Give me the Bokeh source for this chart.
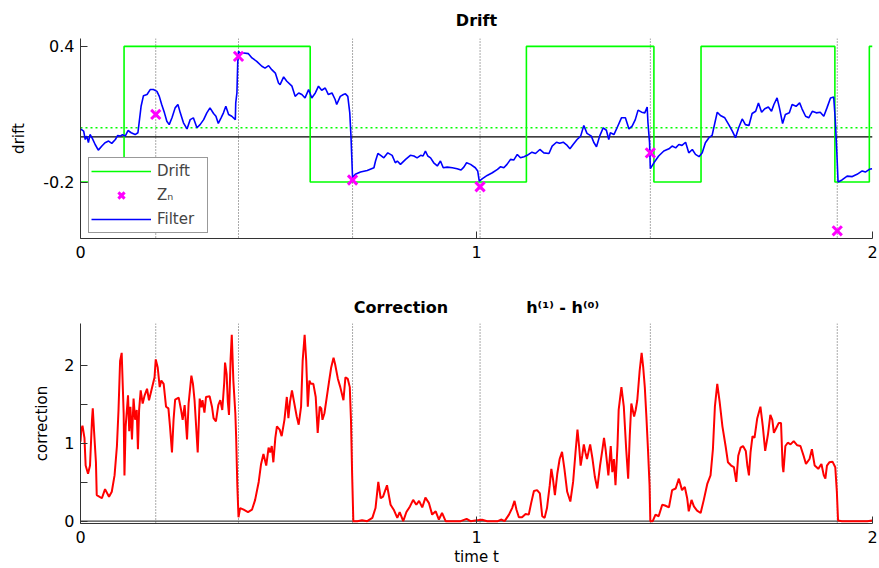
from bokeh.plotting import figure
from bokeh.layouts import column
from bokeh.models import (Legend, LegendItem, FixedTicker, Span, Range1d)
from bokeh.embed import file_html
from bokeh.resources import INLINE

FONT = "DejaVu Sans"

# ---------------- data ----------------
drift_t = [0.0, 0.110, 0.580, 1.126, 1.448, 1.567, 1.905, 1.992, 2.0]
drift_v = [-0.2, 0.4, -0.2, 0.4, -0.2, 0.4, -0.2, 0.4, 0.4]

obs_t = [0.190, 0.399, 0.687, 1.009, 1.439, 1.911]
obs_z = [0.099, 0.356, -0.191, -0.221, -0.071, -0.416]

zero_level = 0.0
mean_drift = 0.04

filter_t = [
    0.000, 0.008, 0.012, 0.016, 0.020, 0.024, 0.029, 0.037, 0.045, 0.054, 0.062, 0.071, 0.079, 0.088,
    0.094, 0.100, 0.106, 0.113, 0.120, 0.128, 0.138, 0.145, 0.148, 0.153, 0.159, 0.168, 0.176, 0.184,
    0.193, 0.199, 0.205, 0.212, 0.218, 0.224, 0.231, 0.239, 0.246, 0.252, 0.260, 0.269, 0.277, 0.285,
    0.294, 0.302, 0.311, 0.319, 0.327, 0.336, 0.342, 0.348, 0.355, 0.361, 0.367, 0.374, 0.382, 0.391,
    0.392, 0.395, 0.397, 0.399, 0.403, 0.412, 0.424, 0.433, 0.445, 0.458, 0.466, 0.475, 0.483, 0.492,
    0.500, 0.504, 0.513, 0.521, 0.534, 0.542, 0.551, 0.559, 0.567, 0.576, 0.584, 0.593, 0.601, 0.609,
    0.618, 0.626, 0.635, 0.643, 0.647, 0.656, 0.664,
    0.669, 0.675, 0.680, 0.683, 0.687, 0.694, 0.707, 0.724, 0.741, 0.745, 0.751, 0.758, 0.766, 0.776,
    0.787, 0.795, 0.800, 0.808, 0.821, 0.833, 0.842, 0.850, 0.859, 0.865, 0.871, 0.877, 0.884, 0.892,
    0.901, 0.909, 0.916, 0.926, 0.939, 0.951, 0.961, 0.968, 0.975, 0.985, 0.997, 1.003, 1.007, 1.015,
    1.027, 1.040, 1.053, 1.061, 1.069, 1.077, 1.086, 1.094, 1.103, 1.111, 1.120, 1.128, 1.140, 1.149,
    1.160, 1.170, 1.183, 1.191, 1.202, 1.210, 1.219, 1.229, 1.236, 1.244, 1.254, 1.263, 1.271, 1.279,
    1.290, 1.296, 1.303, 1.311, 1.320, 1.328, 1.334,
    1.338, 1.347, 1.355, 1.366, 1.376, 1.385, 1.393, 1.401, 1.408, 1.417, 1.425, 1.431, 1.433, 1.437,
    1.439, 1.448, 1.460, 1.473, 1.486, 1.494, 1.503, 1.511, 1.519, 1.528, 1.536, 1.545, 1.553, 1.562,
    1.570, 1.578, 1.587, 1.595, 1.602, 1.608, 1.616, 1.627, 1.637, 1.646, 1.654, 1.662, 1.671, 1.679,
    1.688, 1.696, 1.705, 1.712, 1.720, 1.728, 1.737, 1.745, 1.751, 1.759, 1.765, 1.773, 1.780, 1.790,
    1.797, 1.807, 1.816, 1.822, 1.831, 1.839, 1.848, 1.858, 1.868, 1.877, 1.885, 1.894, 1.902, 1.906,
    1.910, 1.913, 1.923, 1.936, 1.949, 1.961, 1.974, 1.982, 1.992, 1.999]
filter_v = [
    0.035, 0.025, -0.012, 0.003, -0.026, 0.010, -0.004, -0.034, -0.059, -0.041, -0.026, -0.019, -0.029, -0.012,
    0.006, 0.003, 0.009, 0.003, 0.028, 0.018, 0.010, 0.018, 0.062, 0.135, 0.182, 0.187, 0.209, 0.209,
    0.201, 0.179, 0.143, 0.106, 0.069, 0.054, 0.084, 0.128, 0.143, 0.106, 0.062, 0.035, 0.076, 0.084,
    0.040, 0.054, 0.076, 0.106, 0.128, 0.103, 0.091, 0.059, 0.084, 0.106, 0.135, 0.099, 0.091, 0.076,
    0.150, 0.194, 0.326, 0.378, 0.371, 0.371, 0.368, 0.349, 0.334, 0.312, 0.304, 0.315, 0.297, 0.282,
    0.238, 0.231, 0.265, 0.246, 0.224, 0.179, 0.194, 0.187, 0.172, 0.209, 0.172, 0.194, 0.224, 0.206,
    0.216, 0.187, 0.194, 0.165, 0.143, 0.179, 0.187,
    0.190, 0.179, 0.106, 0.003, -0.181, -0.166, -0.156, -0.149, -0.137, -0.107, -0.074, -0.082, -0.093, -0.071,
    -0.082, -0.115, -0.107, -0.122, -0.100, -0.082, -0.085, -0.093, -0.082, -0.085, -0.063, -0.085, -0.093, -0.115,
    -0.129, -0.107, -0.137, -0.134, -0.137, -0.141, -0.147, -0.134, -0.115, -0.122, -0.137, -0.151, -0.196, -0.185,
    -0.171, -0.159, -0.144, -0.132, -0.137, -0.122, -0.100, -0.103, -0.078, -0.093, -0.088, -0.082, -0.068, -0.074,
    -0.056, -0.071, -0.074, -0.041, -0.024, -0.029, -0.024, -0.038, -0.053, -0.034, -0.012, 0.003, 0.050, 0.015,
    0.003, -0.024, -0.044, 0.003, 0.040, 0.029, -0.012,
    0.018, 0.010, 0.040, 0.084, 0.084, 0.035, 0.047, 0.076, 0.118, 0.109, 0.106, 0.132, 0.062, -0.026,
    -0.141, -0.115, -0.085, -0.063, -0.053, -0.041, -0.049, -0.034, -0.038, -0.024, -0.071, -0.056, -0.078, -0.088,
    -0.071, -0.026, -0.004, 0.006, 0.062, 0.109, 0.094, 0.084, 0.054, 0.025, -0.004, 0.040, 0.079, 0.054,
    0.050, 0.103, 0.113, 0.150, 0.109, 0.124, 0.132, 0.113, 0.143, 0.172, 0.128, 0.059, 0.099, 0.106,
    0.143, 0.135, 0.150, 0.124, 0.091, 0.084, 0.113, 0.106, 0.109, 0.091, 0.128, 0.172, 0.176, 0.076,
    -0.071, -0.200, -0.191, -0.174, -0.176, -0.166, -0.151, -0.156, -0.144, -0.141]

corr_t = [
    0.000, 0.002, 0.005, 0.010, 0.013, 0.019, 0.024, 0.029, 0.031, 0.034, 0.039, 0.041, 0.054, 0.062,
    0.072, 0.079, 0.086, 0.092, 0.096, 0.100, 0.104, 0.109, 0.111, 0.114, 0.120, 0.123, 0.126, 0.130,
    0.134, 0.138, 0.142, 0.145, 0.148, 0.152, 0.157, 0.162, 0.168, 0.173, 0.180, 0.187, 0.190, 0.195,
    0.200, 0.204, 0.210, 0.216, 0.222, 0.226, 0.231, 0.235, 0.239, 0.248, 0.254, 0.258, 0.263, 0.269,
    0.273, 0.280, 0.284, 0.288, 0.291, 0.296, 0.301, 0.305, 0.308, 0.313, 0.317, 0.326, 0.332, 0.336,
    0.342, 0.348, 0.353, 0.358, 0.363, 0.365, 0.369, 0.372, 0.375, 0.379, 0.382, 0.386, 0.391, 0.393,
    0.396, 0.399, 0.403, 0.412, 0.423, 0.433, 0.441, 0.450, 0.456, 0.462, 0.469, 0.475, 0.479, 0.483,
    0.487, 0.492, 0.496, 0.503, 0.508, 0.515, 0.521, 0.525, 0.529, 0.534, 0.540, 0.546, 0.551, 0.557,
    0.561, 0.566, 0.570, 0.574, 0.578, 0.582, 0.588, 0.594, 0.599, 0.604, 0.608, 0.611, 0.616, 0.622,
    0.628, 0.633, 0.639, 0.643, 0.650, 0.656, 0.664, 0.669, 0.675, 0.680, 0.683, 0.686, 0.689, 0.699,
    0.711, 0.724, 0.737, 0.745, 0.752, 0.758, 0.764, 0.774, 0.783, 0.791, 0.800, 0.806, 0.815, 0.823,
    0.832, 0.840, 0.848, 0.855, 0.863, 0.871, 0.880, 0.888, 0.897, 0.905, 0.913, 0.922, 0.934, 0.947,
    0.960, 0.975, 0.985, 0.997, 1.014, 1.027, 1.044, 1.054, 1.062, 1.071, 1.082, 1.090, 1.096, 1.101,
    1.107, 1.115, 1.124, 1.132, 1.138, 1.145, 1.153, 1.160, 1.166, 1.172, 1.178, 1.185, 1.189, 1.193,
    1.198, 1.204, 1.210, 1.216, 1.222, 1.229, 1.237, 1.244, 1.250, 1.255, 1.259, 1.263, 1.267, 1.271,
    1.275, 1.279, 1.287, 1.293, 1.299, 1.305, 1.312, 1.318, 1.322, 1.326, 1.333, 1.339, 1.343, 1.347,
    1.351, 1.356, 1.359, 1.366, 1.372, 1.378, 1.383, 1.387, 1.391, 1.398, 1.402, 1.406, 1.412, 1.417,
    1.421, 1.425, 1.429, 1.433, 1.437, 1.439, 1.445, 1.452, 1.460, 1.469, 1.476, 1.486, 1.494, 1.503,
    1.511, 1.519, 1.526, 1.532, 1.536, 1.543, 1.549, 1.557, 1.566, 1.574, 1.583, 1.591, 1.597, 1.602,
    1.608, 1.614, 1.621, 1.629, 1.635, 1.643, 1.650, 1.656, 1.661, 1.667, 1.673, 1.680, 1.684, 1.688,
    1.692, 1.697, 1.702, 1.709, 1.717, 1.723, 1.729, 1.736, 1.742, 1.747, 1.751, 1.757, 1.763, 1.769,
    1.773, 1.775, 1.780, 1.786, 1.793, 1.801, 1.810, 1.818, 1.826, 1.832, 1.841, 1.847, 1.854, 1.863,
    1.871, 1.877, 1.881, 1.885, 1.891, 1.899, 1.906, 1.910, 1.913, 1.923, 1.940, 1.957, 1.976, 1.987,
    1.999]
corr_v = [
    1.020, 1.174, 1.224, 1.069, 0.713, 0.608, 0.713, 1.300, 1.447, 1.174, 0.755, 0.335, 0.294, 0.411,
    0.314, 0.377, 0.587, 0.964, 1.426, 2.055, 2.159, 1.384, 0.587, 1.216, 1.614, 1.153, 1.468, 1.048,
    1.572, 1.300, 1.426, 0.922, 1.426, 1.677, 1.509, 1.614, 1.698, 1.551, 1.698, 1.845, 2.075, 1.971,
    1.719, 1.803, 1.761, 1.468, 1.447, 1.216, 0.881, 1.300, 1.560, 1.585, 1.426, 1.300, 1.488, 1.048,
    1.509, 1.866, 1.761, 1.551, 1.300, 0.881, 1.572, 1.459, 1.551, 1.392, 1.593, 1.602, 1.468, 1.321,
    1.279, 1.488, 1.551, 1.426, 1.782, 2.034, 1.887, 1.530, 1.363, 2.075, 2.390, 1.803, 1.384, 1.090,
    0.461, 0.050, 0.168, 0.147, 0.117, 0.147, 0.273, 0.503, 0.734, 0.860, 0.713, 0.943, 0.881, 0.964,
    0.755, 1.069, 1.216, 1.174, 1.090, 1.300, 1.593, 1.321, 1.530, 1.677, 1.509, 1.342, 1.237, 1.468,
    2.055, 2.390, 2.055, 1.468, 1.803, 1.761, 1.761, 1.593, 1.132, 1.468, 1.447, 1.300, 1.384, 1.593,
    1.803, 1.971, 2.096, 2.013, 1.824, 1.719, 1.551, 1.845, 1.824, 1.719, 1.300, 0.587, 0.000, 0.000,
    0.013, 0.000, 0.042, 0.168, 0.503, 0.294, 0.314, 0.461, 0.210, 0.147, 0.042, 0.117, 0.000, 0.117,
    0.189, 0.273, 0.210, 0.260, 0.176, 0.302, 0.231, 0.084, 0.126, 0.021, 0.105, 0.000, 0.000, 0.000,
    0.000, 0.029, 0.000, 0.008, 0.017, 0.000, 0.000, 0.000, 0.021, 0.000, 0.084, 0.168, 0.260, 0.147,
    0.050, 0.050, 0.092, 0.084, 0.231, 0.386, 0.398, 0.356, 0.063, 0.042, 0.168, 0.461, 0.671, 0.545,
    0.335, 0.608, 0.797, 0.889, 0.671, 0.377, 0.252, 0.503, 0.881, 1.174, 0.964, 0.713, 0.839, 0.985,
    0.881, 0.797, 0.985, 0.797, 0.566, 0.419, 0.713, 0.922, 1.069, 0.922, 0.587, 0.964, 0.629, 0.797,
    0.461, 0.964, 1.426, 1.719, 1.468, 0.922, 0.545, 1.090, 1.509, 1.342, 1.426, 1.551, 1.929, 2.159,
    1.971, 1.719, 1.342, 0.922, 0.461, 0.000, 0.000, 0.084, 0.063, 0.210, 0.201, 0.176, 0.398, 0.419,
    0.545, 0.398, 0.440, 0.294, 0.126, 0.273, 0.189, 0.134, 0.105, 0.273, 0.482, 0.587, 0.922, 1.468,
    1.761, 1.530, 1.216, 0.964, 0.755, 0.713, 0.692, 0.503, 0.839, 0.943, 0.964, 0.901, 0.713, 0.587,
    0.881, 1.090, 1.069, 1.321, 1.468, 1.216, 0.901, 1.111, 1.363, 1.300, 1.132, 1.195, 1.258, 1.258,
    0.713, 0.629, 0.964, 1.006, 0.985, 1.027, 0.973, 0.964, 0.839, 0.734, 0.797, 0.922, 0.713, 0.671,
    0.734, 0.587, 0.545, 0.713, 0.755, 0.763, 0.692, 0.377, 0.008, 0.000, 0.000, 0.000, 0.000, 0.000,
    0.008]

x_ticks = [0, 1, 2]
drift_ticks = [-0.2, 0.4]
drift_tick_labels = {-0.2: "-0.2", 0.4: "0.4"}
corr_ticks = [0, 1, 2]
corr_minor = [0.5, 1.5]

TITLE_TOP = "Drift"
TITLE_BOTTOM = "Correction" + "\u00a0" * 14 + "h\u207d\u00b9\u207e - h\u207d\u2070\u207e"

AX = "#333333"


def style_axes(p):
    p.xgrid.visible = False
    p.ygrid.visible = False
    p.outline_line_color = None
    p.background_fill_color = "white"
    p.border_fill_color = "white"
    for ax in (p.xaxis[0], p.yaxis[0]):
        ax.axis_line_color = AX
        ax.axis_line_width = 1
        ax.major_tick_line_color = AX
        ax.minor_tick_line_color = AX
        ax.major_tick_in = 7
        ax.major_tick_out = 0
        ax.minor_tick_in = 7
        ax.minor_tick_out = 0
        ax.major_label_text_font = FONT
        ax.major_label_text_font_size = "16px"
        ax.major_label_text_color = "black"
        ax.axis_label_text_font = FONT
        ax.axis_label_text_font_size = "15px"
        ax.axis_label_text_font_style = "normal"
        ax.axis_label_text_color = "black"


def style_title(p, text, standoff):
    p.title.text = text
    p.title.align = "center"
    p.title.text_font = FONT
    p.title.text_font_size = "16px"
    p.title.text_font_style = "bold"
    p.title.text_color = "black"
    p.title.standoff = standoff


# ---------------- top: Drift ----------------
p1 = figure(width=878, height=280, x_range=Range1d(0, 2), y_range=Range1d(-0.45, 0.435),
            output_backend="svg", toolbar_location=None,
            min_border_left=80, min_border_right=6, min_border_top=37, min_border_bottom=42)
style_axes(p1)
style_title(p1, TITLE_TOP, 17)

p1.xaxis.ticker = FixedTicker(ticks=x_ticks, minor_ticks=[])
p1.yaxis.ticker = FixedTicker(ticks=drift_ticks, minor_ticks=[])
p1.yaxis.major_label_overrides = drift_tick_labels
p1.xaxis.major_label_standoff = 7
p1.yaxis.major_label_standoff = 6
p1.yaxis.axis_label = "drift"
p1.yaxis.axis_label_standoff = 12

for t in obs_t:
    p1.add_layout(Span(location=t, dimension="height", line_color="#555555",
                       line_dash="1 2", line_width=1, level="underlay"))
p1.add_layout(Span(location=zero_level, dimension="width", line_color="black",
                   line_width=1.3, level="underlay"))
p1.add_layout(Span(location=mean_drift, dimension="width", line_color="#00ff00",
                   line_dash="2 3", line_width=1.5, level="underlay"))

r_drift = p1.step(drift_t, drift_v, mode="after", line_color="#00ff00", line_width=1.6)
r_filter = p1.line(filter_t, filter_v, line_color="#0000ff", line_width=1.6)
r_z = p1.scatter(obs_t, obs_z, marker="x", size=13, line_color="#ff00ff", line_width=3)

legend = Legend(items=[LegendItem(label="Drift", renderers=[r_drift]),
                       LegendItem(label="Z\u2099", renderers=[r_z]),
                       LegendItem(label="Filter", renderers=[r_filter])],
                location=(8, 5), orientation="vertical",
                label_text_font=FONT, label_text_font_size="15px",
                glyph_width=60, glyph_height=22, label_height=22, label_width=48,
                label_standoff=6, spacing=2, padding=2, margin=0,
                border_line_color=AX, border_line_width=1,
                background_fill_color="white", background_fill_alpha=1.0)
p1.add_layout(legend, "center")

# ---------------- bottom: Correction ----------------
p2 = figure(width=878, height=288, x_range=Range1d(0, 2), y_range=Range1d(-0.03, 2.535),
            output_backend="svg", toolbar_location=None,
            min_border_left=80, min_border_right=6, min_border_top=43, min_border_bottom=43)
style_axes(p2)
style_title(p2, TITLE_BOTTOM, 14)
p2.xaxis.ticker = FixedTicker(ticks=x_ticks, minor_ticks=[])
p2.yaxis.ticker = FixedTicker(ticks=corr_ticks, minor_ticks=corr_minor)
p2.xaxis.major_label_standoff = 7
p2.yaxis.major_label_standoff = 6
p2.xaxis.axis_label = "time t"
p2.xaxis.axis_label_standoff = 2
p2.yaxis.axis_label = "correction"
p2.yaxis.axis_label_standoff = 10

for t in obs_t:
    p2.add_layout(Span(location=t, dimension="height", line_color="#555555",
                       line_dash="1 2", line_width=1, level="underlay"))
p2.add_layout(Span(location=zero_level, dimension="width", line_color="#444444",
                   line_width=1.2, level="underlay"))

p2.line(corr_t, corr_v, line_color="#ff0000", line_width=2)

layout = column(p1, p2, spacing=0)
open("out.html", "w").write(file_html(layout, INLINE))
